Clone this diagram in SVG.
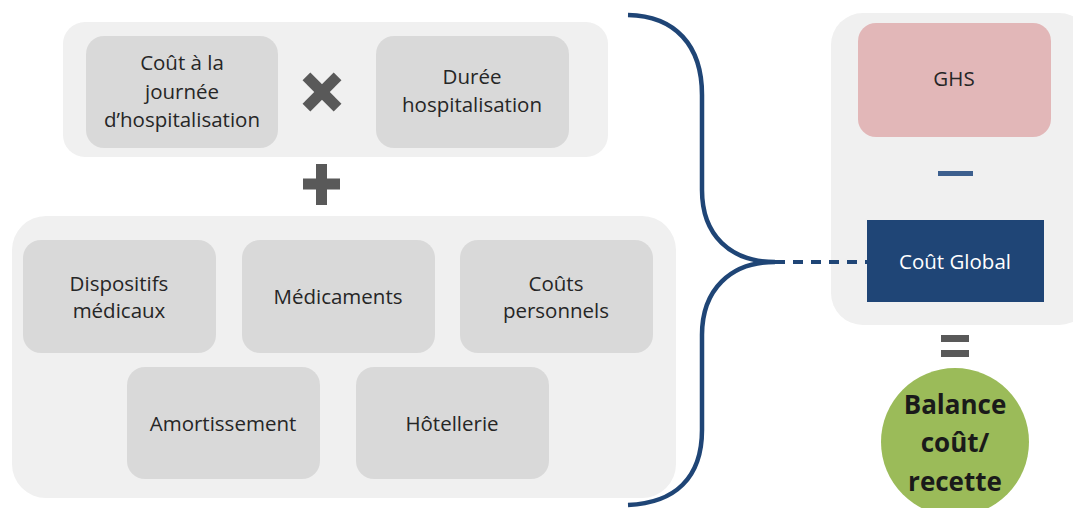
<svg xmlns="http://www.w3.org/2000/svg" width="1073" height="508" viewBox="0 0 1073 508">
<style>
.panel{fill:#f0f0f0}
.box{fill:#d9d9d9}
.t{font-family:"Open Sans","Liberation Sans",sans-serif;font-size:20.5px;fill:#262626;text-anchor:middle}
.op{fill:#595959}
.brace{fill:none;stroke:#1f4576;stroke-width:4.5}
</style>
<rect width="1073" height="508" fill="#ffffff"/>
<g id="panel-top"><rect class="panel" x="63" y="22" width="545" height="135" rx="22"/></g>
<g id="panel-bottom"><rect class="panel" x="12" y="216" width="664" height="282" rx="34"/></g>
<g id="panel-right"><rect class="panel" x="831" y="13" width="260" height="312" rx="32"/></g>

<g id="cout-journee"><rect class="box" x="86" y="36" width="192" height="112" rx="18"/>
<text class="t" x="182" y="70">Coût à la</text><text class="t" x="182" y="98.5">journée</text><text class="t" x="182" y="127">d’hospitalisation</text></g>
<g id="op-times"><g class="op" transform="translate(322 92) rotate(45)"><rect x="-22" y="-5.5" width="44" height="11"/><rect x="-5.5" y="-22" width="11" height="44"/></g></g>
<g id="duree"><rect class="box" x="376" y="36" width="193" height="112" rx="18"/>
<text class="t" x="472" y="84">Durée</text><text class="t" x="472" y="112">hospitalisation</text></g>
<g id="op-plus"><g class="op"><rect x="303" y="178.5" width="37" height="11"/><rect x="316" y="164" width="11" height="41"/></g></g>

<g id="dispositifs"><rect class="box" x="23" y="240" width="193" height="113" rx="18"/>
<text class="t" x="119" y="291">Dispositifs</text><text class="t" x="119" y="318">médicaux</text></g>
<g id="medicaments"><rect class="box" x="242" y="240" width="193" height="113" rx="18"/>
<text class="t" x="338" y="304">Médicaments</text></g>
<g id="couts-personnels"><rect class="box" x="460" y="240" width="193" height="113" rx="18"/>
<text class="t" x="556" y="291">Coûts</text><text class="t" x="556" y="318">personnels</text></g>
<g id="amortissement"><rect class="box" x="127" y="367" width="193" height="112" rx="18"/>
<text class="t" x="223" y="431">Amortissement</text></g>
<g id="hotellerie"><rect class="box" x="356" y="367" width="193" height="112" rx="18"/>
<text class="t" x="452" y="431">Hôtellerie</text></g>

<g id="ghs"><rect x="858" y="23" width="193" height="114" rx="18" fill="#e2b7b8"/>
<text class="t" x="954" y="86">GHS</text></g>
<g id="op-minus"><rect x="938" y="171" width="35" height="5" fill="#3c5f8e"/></g>
<g id="cout-global"><rect x="867" y="220" width="177" height="82" fill="#1f4576"/>
<text class="t" x="955" y="269" style="fill:#ffffff">Coût Global</text></g>
<g id="op-equals" class="op"><rect x="941" y="335" width="28" height="7"/><rect x="941" y="350" width="28" height="7"/></g>
<g id="balance"><circle cx="955" cy="442" r="74" fill="#9bbb59"/>
<text class="t" x="955" y="414" style="font-weight:bold;font-size:26px;fill:#1a1a1a">Balance</text>
<text class="t" x="955" y="452" style="font-weight:bold;font-size:26px;fill:#1a1a1a">coût/</text>
<text class="t" x="955" y="491" style="font-weight:bold;font-size:26px;fill:#1a1a1a">recette</text></g>

<g id="connectors">
<path class="brace" d="M628 15 C675 16 702 45 702 95 L702 190 C702 235 730 262 775 262 C730 262 702 290 702 335 L702 430 C702 478 675 503 628 505"/>
<line x1="775" y1="262" x2="867" y2="262" stroke="#1f4576" stroke-width="4" stroke-dasharray="10 8"/>
</g>
</svg>
